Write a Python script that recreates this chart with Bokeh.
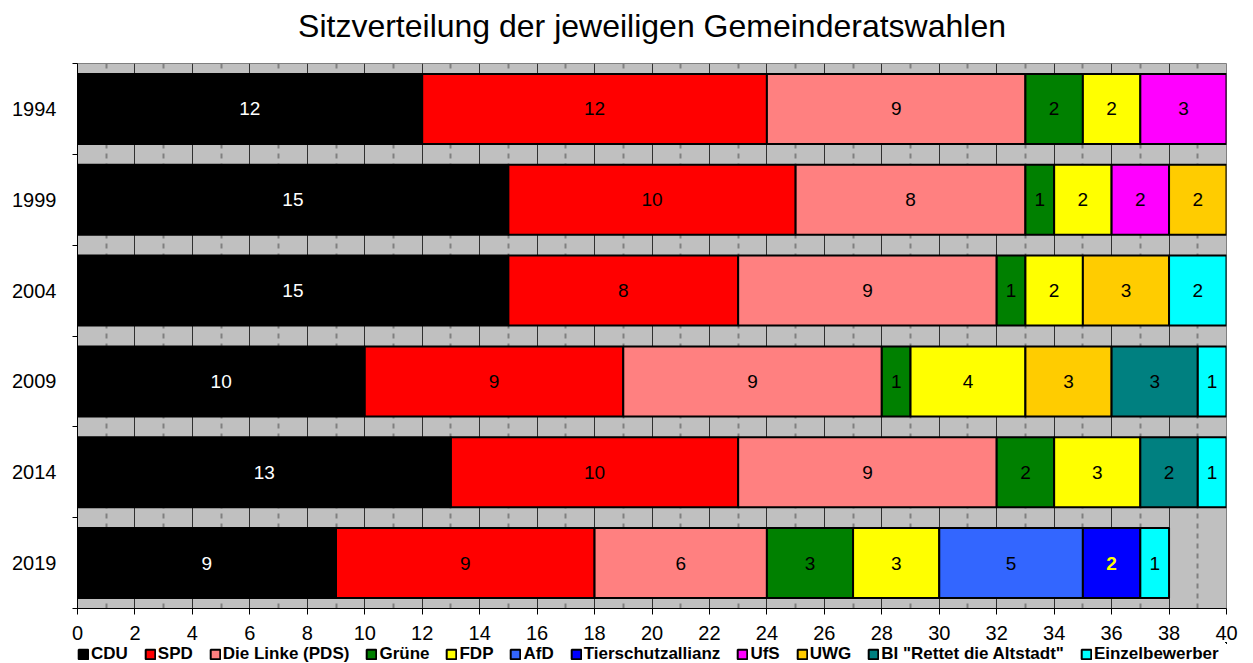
from bokeh.plotting import figure
from bokeh.layouts import column
from bokeh.models import (ColumnDataSource, Range1d, LinearAxis,
                          FixedTicker, Legend, LegendItem)
from bokeh.core.properties import value
from bokeh.embed import file_html
from bokeh.resources import INLINE

years = ["1994", "1999", "2004", "2009", "2014", "2019"]
parties = ["CDU", "SPD", "Die Linke (PDS)", "Grüne", "FDP", "AfD", "Tierschutzallianz",
           "UfS", "UWG", 'BI "Rettet die Altstadt"', "Einzelbewerber"]
colors = ["#000000", "#FF0000", "#FF8080", "#008000", "#FFFF00", "#3366FF", "#0000FF",
          "#FF00FF", "#FFCC00", "#008080", "#00FFFF"]

cdu = [12, 15, 15, 10, 13, 9]
spd = [12, 10, 8, 9, 10, 9]
linke = [9, 8, 9, 9, 9, 6]
gruene = [2, 1, 1, 1, 2, 3]
fdp = [2, 2, 2, 4, 3, 3]
afd = [0, 0, 0, 0, 0, 5]
tier = [0, 0, 0, 0, 0, 2]
ufs = [3, 2, 0, 0, 0, 0]
uwg = [0, 2, 3, 3, 0, 0]
bi = [0, 0, 0, 3, 2, 0]
einzel = [0, 0, 2, 1, 1, 1]
series = [cdu, spd, linke, gruene, fdp, afd, tier, ufs, uwg, bi, einzel]

x_ticks = list(range(0, 41, 2))
x_minor = list(range(1, 40, 2))

FONT = "Liberation Sans"

n = len(years)
ypos = [i + 0.5 for i in range(n)]

# title strip
tp = figure(width=1253, height=63, output_backend="svg", toolbar_location=None,
            x_range=Range1d(0, 1), y_range=Range1d(0, 1),
            x_axis_location=None, y_axis_location=None,
            min_border_left=77, min_border_right=27, min_border_top=0, min_border_bottom=0)
tp.outline_line_color = None
tp.background_fill_color = "white"
tp.border_fill_color = "white"
tp.xgrid.visible = False
tp.ygrid.visible = False
tp.title.text = "Sitzverteilung der jeweiligen Gemeinderatswahlen"
tp.title.align = "center"
tp.title.text_font = FONT
tp.title.text_font_size = "32px"
tp.title.text_font_style = "normal"
tp.title.text_color = "black"
tp.title.standoff = 10

p = figure(frame_width=1149, frame_height=545, output_backend="svg", toolbar_location=None,
           x_range=Range1d(0, 40), y_range=Range1d(n, 0), title_location=None,
           y_axis_location=None, x_axis_location=None,
           min_border_left=77, min_border_right=27, min_border_top=0, min_border_bottom=0)
p.background_fill_color = "#C0C0C0"
p.border_fill_color = "white"
p.outline_line_color = "#808080"
p.outline_line_width = 1

# x axis
xaxis = LinearAxis(ticker=FixedTicker(ticks=x_ticks, minor_ticks=x_minor))
xaxis.major_label_text_font = FONT
xaxis.major_label_text_font_size = "20px"
xaxis.major_label_text_color = "black"
xaxis.major_tick_out = 6
xaxis.major_tick_in = 0
xaxis.minor_tick_line_color = None
xaxis.major_label_standoff = 11
xaxis.axis_line_color = "black"
p.add_layout(xaxis, "below")

# y axis: labels at band centres, ticks at band boundaries
ylab = LinearAxis(ticker=FixedTicker(ticks=ypos, minor_ticks=list(range(0, n + 1))))
ylab.major_label_overrides = {y: yr for y, yr in zip(ypos, years)}
ylab.major_tick_line_color = None
ylab.minor_tick_line_color = "black"
ylab.minor_tick_out = 5
ylab.minor_tick_in = 0
ylab.axis_line_color = "black"
ylab.major_label_text_font = FONT
ylab.major_label_text_font_size = "20px"
ylab.major_label_text_color = "black"
ylab.major_label_standoff = 15
p.add_layout(ylab, "left")

# grid
p.xgrid.ticker = FixedTicker(ticks=x_ticks, minor_ticks=x_minor)
p.xgrid.grid_line_color = "#303030"
p.xgrid.grid_line_width = 1
p.xgrid.minor_grid_line_color = "#808080"
p.xgrid.minor_grid_line_width = 2
p.xgrid.minor_grid_line_dash = "5 5"
p.ygrid.grid_line_color = None

# legend strip (separate figure below the chart; its bars are out of view)
lp = figure(width=1253, height=22, output_backend="svg", toolbar_location=None,
            x_range=Range1d(-20, -19), y_range=Range1d(-20, -19),
            x_axis_location=None, y_axis_location=None,
            min_border_left=77, min_border_right=27,
            min_border_top=0, min_border_bottom=0)
lp.outline_line_color = None
lp.background_fill_color = "white"
lp.border_fill_color = "white"
lp.xgrid.visible = False
lp.ygrid.visible = False

legend_items = []
lab_x, lab_y, lab_t, lab_c, lab_s = [], [], [], [], []
cum = [0] * n
for party, col, vals in zip(parties, colors, series):
    ys, lefts, rights = [], [], []
    for i, v in enumerate(vals):
        if v > 0:
            ys.append(ypos[i])
            lefts.append(cum[i])
            rights.append(cum[i] + v)
            lab_x.append(cum[i] + v / 2)
            lab_y.append(ypos[i])
            lab_t.append(str(v))
            if party == "CDU":
                lab_c.append("white"); lab_s.append("normal")
            elif party == "Tierschutzallianz":
                lab_c.append("#FFFF00"); lab_s.append("bold")
            else:
                lab_c.append("black"); lab_s.append("normal")
            cum[i] += v
    src = ColumnDataSource(dict(y=ys, left=lefts, right=rights))
    p.hbar(y="y", left="left", right="right", height=0.77, source=src,
           fill_color=col, line_color="black", line_width=2)
    lr = lp.hbar(y="y", left="left", right="right", height=0.77, source=src,
                 fill_color=col, line_color="black", line_width=2)
    legend_items.append(LegendItem(label=party, renderers=[lr]))

lsrc = ColumnDataSource(dict(x=lab_x, y=lab_y, t=lab_t, c=lab_c, s=lab_s))
p.text(x="x", y="y", text="t", source=lsrc, text_color="c", text_font_style="s",
       text_font=value(FONT), text_font_size="19px", text_align="center",
       text_baseline="middle")

legend = Legend(items=legend_items, orientation="horizontal", location=(0, 0))
legend.label_text_font = FONT
legend.label_text_font_size = "17px"
legend.label_text_font_style = "bold"
legend.label_text_color = "black"
legend.glyph_width = 12
legend.glyph_height = 12
legend.label_standoff = 2
legend.spacing = 16
legend.padding = 0
legend.margin = 0
legend.border_line_color = None
legend.background_fill_alpha = 0
legend.label_height = 18
lp.add_layout(legend, "center")

layout = column(tp, p, lp, spacing=0)
open("out.html", "w").write(file_html(layout, INLINE))
